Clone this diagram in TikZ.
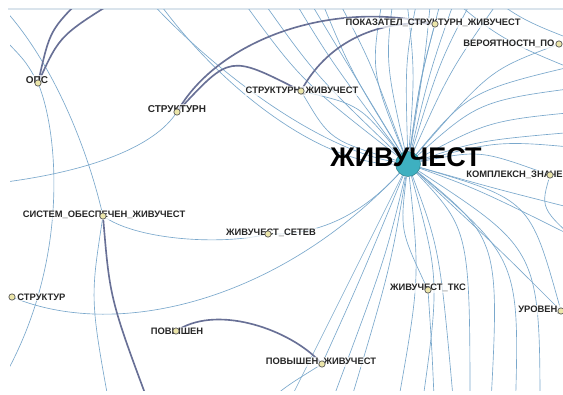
\documentclass[tikz,border=0pt]{standalone}
\usepackage{fontspec}
\setmainfont{Liberation Sans}
\usetikzlibrary{backgrounds}
\definecolor{edgeBlue}{RGB}{122,168,204}
\definecolor{edgeSlate}{RGB}{104,112,150}
\definecolor{hubTeal}{RGB}{62,176,192}
\definecolor{vtxFill}{RGB}{236,230,170}
\definecolor{frameBand}{RGB}{218,228,236}

\begin{document}
\begin{tikzpicture}[
  x=0.03cm, y=-0.03cm,
  edge/.style={draw=edgeBlue, line width=0.55pt},
  strong/.style={draw=edgeSlate, line width=1.4pt},
  vtx/.style={circle, draw=black!65, fill=vtxFill, line width=0.6pt,
    minimum size=0.19cm, inner sep=0pt},
  hubvtx/.style={circle, draw=hubTeal!70!black, fill=hubTeal,
    minimum size=0.75cm, inner sep=0pt},
  lbl/.style={font=\fontsize{8}{9}\selectfont\bfseries, text=black!85,
    fill=white, fill opacity=0.7, text opacity=1, inner sep=1pt},
  midlbl/.style={lbl, font=\fontsize{8.5}{10}\selectfont\bfseries},
  biglbl/.style={font=\fontsize{23}{26}\selectfont\bfseries, inner sep=0pt}
]
  \path[use as bounding box] (0,0) rectangle (563,394);

  % labels
  \node[midlbl] (lab-ops) at (37,80) {ОПС};
  \node[midlbl] (lab-strukt) at (177,109) {СТРУКТУРН};
  \node[lbl] (lab-struktZh) at (302,91) {СТРУКТУРН\_ЖИВУЧЕСТ};
  \node[lbl] (lab-pokaz) at (433,23) {ПОКАЗАТЕЛ\_СТРУКТУРН\_ЖИВУЧЕСТ};
  \node[lbl, anchor=west] (lab-veroyat) at (462,44) {ВЕРОЯТНОСТН\_ПО};
  \node[lbl, anchor=west] (lab-kompl) at (465,175) {КОМПЛЕКСН\_ЗНАЧЕ};
  \node[lbl] (lab-sistem) at (104,215) {СИСТЕМ\_ОБЕСПЕЧЕН\_ЖИВУЧЕСТ};
  \node[lbl] (lab-setev) at (271,233) {ЖИВУЧЕСТ\_СЕТЕВ};
  \node[lbl] (lab-tks) at (428,288) {ЖИВУЧЕСТ\_ТКС};
  \node[lbl, anchor=west] (lab-uroven) at (517,310) {УРОВЕН\_};
  \node[lbl, anchor=west] (lab-dstrukt) at (16,297) {СТРУКТУР};
  \node[lbl] (lab-povysh) at (177,331) {ПОВЫШЕН};
  \node[lbl] (lab-povyshZh) at (321,362) {ПОВЫШЕН\_ЖИВУЧЕСТ};

  % vertices
  \node[vtx] (ops) at (38,83) {};
  \node[vtx] (strukt) at (177,112) {};
  \node[vtx] (struktZh) at (301,91) {};
  \node[vtx] (pokaz) at (435,24) {};
  \node[vtx] (veroyat) at (559,44) {};
  \node[vtx] (kompl) at (550,175) {};
  \node[vtx] (sistem) at (103,216) {};
  \node[vtx] (setev) at (268,234) {};
  \node[vtx] (tks) at (428,290) {};
  \node[vtx] (dstrukt) at (12,297) {};
  \node[vtx] (povysh) at (176,331) {};
  \node[vtx] (povyshZh) at (322,364) {};
  \node[vtx] (uroven) at (561,311) {};
  \node[hubvtx] (hub) at (408,164) {};
  \node[biglbl] (lab-hub) at (406,157) {ЖИВУЧЕСТ};

  \begin{scope}[on background layer]
    \fill[white] (0,0) rectangle (563,394);
    \draw[frameBand, line width=1.2pt] (8,9) -- (563,9);
    \clip (10,10) rectangle (563,390);

    % off-picture ends
    \coordinate (opsUpA) at (85,-5);
    \coordinate (opsUpB) at (125,-5);
    \coordinate (opsUp) at (-10,25);
    \coordinate (opsDn) at (-10,400);
    \coordinate (sistUp) at (5,10);
    \coordinate (sistDnA) at (112,420);
    \coordinate (sistDnB) at (155,420);
    \coordinate (struktOut) at (-20,185);
    \coordinate (pzDn) at (250,420);
    \coordinate (tksDn) at (435,420);
    \coordinate (tlA) at (140,-10);
    \coordinate (tlB) at (150,-10);
    \coordinate (tlC) at (235,-10);
    \coordinate (tlD) at (255,-10);
    \coordinate (trA) at (430,-20);
    \coordinate (trB) at (600,80);
    \coordinate (trC) at (470,-20);
    \coordinate (trD) at (600,50);
    \coordinate (kDn) at (600,260);

    % thin edges
    \draw[edge] (ops) .. controls (60,140) and (70,280) .. (opsDn);
    \draw[edge] (ops) .. controls (25,60) .. (opsUp);
    \draw[edge] (sistem) .. controls (85,140) and (50,60) .. (sistUp);
    \draw[edge] (sistem) .. controls (90,300) .. (sistDnA);
    \draw[edge] (strukt) .. controls (150,150) and (80,175) .. (struktOut);
    \draw[edge] (sistem) .. controls (140,240) and (220,245) .. (setev);
    \draw[edge] (setev) .. controls (330,235) and (370,205) .. (hub);
    \draw[edge] (dstrukt) .. controls (120,340) and (280,300) .. (hub);
    \draw[edge] (struktZh) .. controls (360,105) .. (hub);
    \draw[edge] (struktZh) .. controls (330,140) .. (hub);
    \draw[edge] (pokaz) .. controls (420,80) .. (hub);
    \draw[edge] (povyshZh) .. controls (360,280) .. (hub);
    \draw[edge] (povyshZh) .. controls (280,390) .. (pzDn);
    \draw[edge] (hub) .. controls (400,230) .. (tks);
    \draw[edge] (tks) .. controls (432,350) .. (tksDn);
    \draw[edge] (hub) .. controls (480,150) .. (kompl);
    \draw[edge] (hub) .. controls (490,70) .. (veroyat);
    \draw[edge] (hub) .. controls (530,200) .. (uroven);
    \draw[edge] (hub) .. controls (500,250) .. (uroven);
    \draw[edge] (kompl) .. controls (540,210) .. (kDn);
    \draw[edge] (hub) .. controls (320,150) and (210,70) .. (tlA);
    \draw[edge] (hub) .. controls (320,165) and (215,85) .. (tlB);
    \draw[edge] (hub) .. controls (300,80) .. (tlC);
    \draw[edge] (hub) .. controls (315,75) .. (tlD);
    \draw[edge] (trA) .. controls (500,40) .. (trB);
    \draw[edge] (trC) .. controls (520,20) .. (trD);

    % fan round the hub
    \foreach \tx/\ty/\cx/\cy [count=\i] in {
      285/-15/330/60, 300/-15/345/60, 315/-15/350/70, 330/-15/370/60,
      385/-15/370/70, 395/-15/385/60, 405/-15/415/70, 420/-15/405/60,
      432/-15/425/60, 445/-15/420/80, 460/-15/430/70, 480/-15/440/60,
      510/-15/450/70,
      600/60/470/90, 600/85/480/100, 600/110/490/120, 600/130/480/140,
      600/150/500/140, 600/215/500/190, 600/250/480/190,
      470/420/470/230, 490/420/500/240, 515/420/520/260, 540/420/540/250,
      455/420/440/250, 420/420/440/280, 395/420/420/280, 345/420/390/270,
      325/420/385/260, 280/420/360/260}{
      \coordinate (fan\i) at (\tx,\ty);
      \draw[edge] (hub) .. controls (\cx,\cy) .. (fan\i);
    }

    % strong edges
    \draw[strong] (ops) .. controls (50,30) .. (opsUpA);
    \draw[strong] (ops) .. controls (60,35) .. (opsUpB);
    \draw[strong] (strukt) .. controls (230,55) .. (struktZh);
    \draw[strong] (strukt) .. controls (220,40) and (330,0) .. (pokaz);
    \draw[strong] (struktZh) .. controls (330,40) and (380,20) .. (pokaz);
    \draw[strong] (povysh) .. controls (220,305) and (290,330) .. (povyshZh);
    \draw[strong] (sistem) .. controls (110,300) .. (sistDnB);
  \end{scope}
\end{tikzpicture}
\end{document}
